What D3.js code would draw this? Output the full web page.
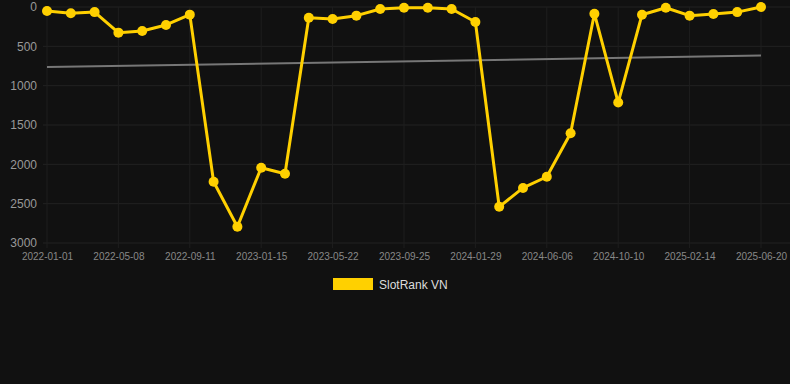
<!DOCTYPE html>
<html><head><meta charset="utf-8">
<script src="https://cdn.jsdelivr.net/npm/d3@7"></script>
<style>
html,body{margin:0;padding:0;background:#111111;}
svg{display:block;}
</style></head>
<body>
<svg id="chart" width="790" height="384"></svg>
<script>
const seriesName = "SlotRank VN";
const tickLabels = ["2022-01-01","2022-05-08","2022-09-11","2023-01-15","2023-05-22","2023-09-25","2024-01-29","2024-06-06","2024-10-10","2025-02-14","2025-06-20"];
const rankValues = [50,80,65,326,305,228,97,2221,2793,2043,2120,136,152,110,26,9,9,26,190,2540,2300,2158,1604,85,1215,98,9,110,89,65,1];
const trendValues = [763,618];
const yTicks = [0,500,1000,1500,2000,2500,3000];

(function(){
const svg = d3.select("#chart");
const pL = 47, pR = 761, pT = 7, pB = 243;
const x = d3.scaleLinear().domain([0, rankValues.length - 1]).range([pL, pR]);
const y = d3.scaleLinear().domain([0, 3000]).range([pT, pB]);

// horizontal grid
svg.append("g").selectAll("line").data(yTicks).join("line")
  .attr("x1", 43).attr("x2", 790)
  .attr("y1", d => y(d)).attr("y2", d => y(d))
  .attr("stroke", "#222").attr("stroke-width", 1);

// vertical grid
const xTickIdx = tickLabels.map((d, i) => i * 3);
svg.append("g").selectAll("line").data(xTickIdx).join("line")
  .attr("x1", d => x(d)).attr("x2", d => x(d))
  .attr("y1", pT).attr("y2", pB + 5)
  .attr("stroke", "#1e1e1e").attr("stroke-width", 1);

// y axis labels
const yAxis = d3.axisLeft(y).tickValues(yTicks).tickSize(0).tickPadding(0).tickFormat(d3.format("d"));
const gy = svg.append("g").attr("transform", "translate(37,0)").call(yAxis);
gy.select(".domain").remove();
gy.selectAll("text").attr("fill", "#999").attr("font-size", 12)
  .attr("font-family", "Liberation Sans, Arial, sans-serif");

// x axis labels
const xAxis = d3.axisBottom(x).tickValues(xTickIdx).tickSize(0).tickPadding(0)
  .tickFormat((d, i) => tickLabels[i]);
const gx = svg.append("g").attr("transform", "translate(0,253)").call(xAxis);
gx.select(".domain").remove();
gx.selectAll("text").attr("fill", "#888").attr("font-size", 10)
  .attr("font-family", "Liberation Sans, Arial, sans-serif");

// trend line
svg.append("line")
  .attr("x1", x(0)).attr("x2", x(rankValues.length - 1))
  .attr("y1", y(trendValues[0])).attr("y2", y(trendValues[1]))
  .attr("stroke", "#777").attr("stroke-width", 2);

// main line
const line = d3.line().x((d, i) => x(i)).y(d => y(d));
svg.append("path").datum(rankValues)
  .attr("d", line).attr("fill", "none")
  .attr("stroke", "#FFD000").attr("stroke-width", 3).attr("stroke-linejoin", "round");

svg.append("g").selectAll("circle").data(rankValues).join("circle")
  .attr("cx", (d, i) => x(i)).attr("cy", d => y(d)).attr("r", 5)
  .attr("fill", "#FFD000");

// legend
const lg = svg.append("g");
lg.append("rect").attr("x", 333).attr("y", 278).attr("width", 40).attr("height", 12)
  .attr("fill", "#FFD000");
lg.append("text").attr("x", 379).attr("y", 288.5).text(seriesName)
  .attr("fill", "#ddd").attr("font-size", 12)
  .attr("font-family", "Liberation Sans, Arial, sans-serif");
})();
</script>
</body></html>
